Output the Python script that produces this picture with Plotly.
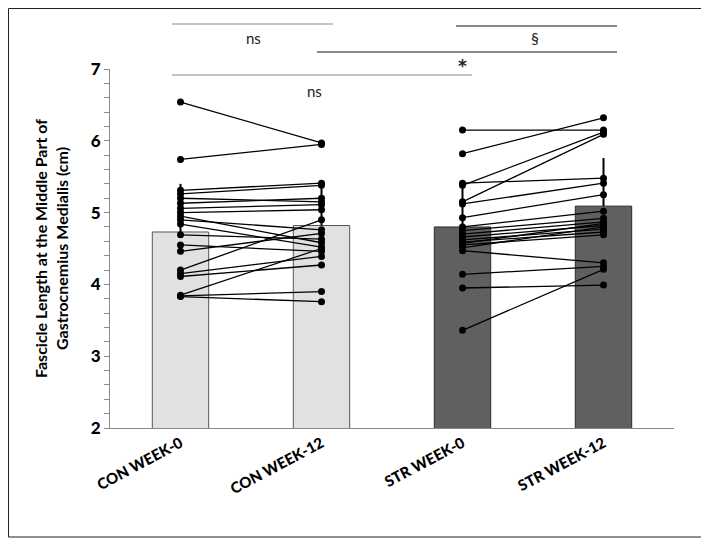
import plotly.graph_objects as go

categories = ["CON WEEK-0", "CON WEEK-12", "STR WEEK-0", "STR WEEK-12"]
bar_means = [4.73, 4.82, 4.80, 5.09]
bar_sd_up = [0.67, 0.59, 0.61, 0.67]
bar_colors = ["#e1e1e1", "#e1e1e1", "#606060", "#606060"]
bar_edges = ["#555555", "#555555", "#2a2a2a", "#2a2a2a"]

con_week0 = [6.54, 5.74, 5.31, 5.26, 5.20, 5.13, 5.06, 5.00, 4.95, 4.90,
             4.84, 4.69, 4.55, 4.46, 4.20, 4.15, 4.11, 3.85, 3.84, 3.83]
con_week12 = [5.97, 5.95, 5.41, 5.38, 5.15, 5.20, 5.11, 5.04, 4.58, 4.76,
              4.52, 4.63, 4.46, 4.71, 4.90, 4.39, 4.27, 4.50, 3.90, 3.76]

str_week0 = [6.15, 5.82, 5.41, 5.38, 5.15, 5.12, 4.93, 4.80, 4.75, 4.70,
             4.66, 4.62, 4.59, 4.55, 4.51, 4.47, 4.14, 3.95, 3.36, 4.57]
str_week12 = [6.15, 6.32, 5.48, 6.12, 6.09, 5.41, 5.25, 5.02, 4.92, 4.87,
              4.82, 4.77, 4.73, 4.69, 4.80, 4.30, 4.25, 3.99, 4.21, 4.85]

y_title = "Fascicle Length at the Middle Part of<br>Gastrocnemius Medialis (cm)"
font_family = "Lato, 'Open Sans', sans-serif"

fig = go.Figure()

fig.add_trace(go.Bar(
    x=categories, y=bar_means, width=0.4,
    marker=dict(color=bar_colors, line=dict(color=bar_edges, width=1)),
    error_y=dict(type="data", array=bar_sd_up, arrayminus=[0] * 4,
                 symmetric=False, width=0, thickness=2, color="black"),
    base=0, showlegend=False, hoverinfo="skip",
))


def paired(c0, c1, v0, v1):
    xs, ys = [], []
    for a, b in zip(v0, v1):
        xs += [c0, c1, None]
        ys += [a, b, None]
    return xs, ys


for c0, c1, v0, v1 in [(categories[0], categories[1], con_week0, con_week12),
                       (categories[2], categories[3], str_week0, str_week12)]:
    xs, ys = paired(c0, c1, v0, v1)
    fig.add_trace(go.Scatter(
        x=xs, y=ys, mode="lines+markers",
        line=dict(color="black", width=1.3),
        marker=dict(color="black", size=7),
        showlegend=False, cliponaxis=False,
    ))

OFF = 8  # page body margin
W, H = 709 - OFF, 541 - OFF
L, T = 110 - OFF, 69 - OFF
pw, ph = 564, 359
R = W - L - pw
B = H - T - ph


def px(x):
    return (x - OFF - L) / pw


def py(y):
    return (T + ph - (y - OFF)) / ph


shapes = []
sig_lines = [
    (172, 333, 24, "#8a8a8a"),
    (456, 617, 26, "#111111"),
    (317, 617, 52, "#111111"),
    (172, 472, 75, "#8a8a8a"),
]
for x0, x1, yy, col in sig_lines:
    shapes.append(dict(type="line", xref="paper", yref="paper",
                       x0=px(x0), x1=px(x1), y0=py(yy), y1=py(yy),
                       line=dict(color=col, width=1.2)))
# outer frame
shapes.append(dict(type="rect", xref="paper", yref="paper",
                   x0=px(OFF + 0.5), x1=px(705), y0=py(OFF + 0.5), y1=py(537),
                   line=dict(color="#222222", width=1)))

annotations = []
for txt, x, y, size, wt, fam in [
        ("ns", 253, 38, 15, "normal", font_family),
        ("§", 535, 38, 16, "normal", font_family),
        ("*", 462, 66, 17, "bold", "DejaVu Sans, sans-serif"),
        ("ns", 314, 91, 15, "normal", font_family)]:
    annotations.append(dict(text=txt, xref="paper", yref="paper",
                            x=px(x), y=py(y), showarrow=False,
                            xanchor="center", yanchor="middle",
                            font=dict(size=size, color="#222222",
                                      family=fam, weight=wt)))

fig.update_layout(
    width=W, height=H,
    margin=dict(l=L, r=R, t=T, b=B, autoexpand=False),
    paper_bgcolor="white", plot_bgcolor="white",
    shapes=shapes, annotations=annotations,
    font=dict(family=font_family, color="black"),
)
fig.update_xaxes(
    type="category", range=[-0.5, 3.5], showline=True, linecolor="#8a8a8a",
    linewidth=1, ticks="", showgrid=False, zeroline=False, tickangle=-28,
    tickfont=dict(size=15, family=font_family, color="black", weight=900),
)
fig.update_yaxes(
    range=[2, 7], dtick=1, tick0=2, showline=True, linecolor="#8a8a8a",
    linewidth=1, ticks="outside", ticklen=5, tickcolor="#8a8a8a",
    minor=dict(dtick=0.2, ticks="outside", ticklen=5, tickcolor="#8a8a8a"),
    showgrid=False, zeroline=False,
    tickfont=dict(size=17, family=font_family, color="black", weight=900),
    title=dict(text=y_title, standoff=18,
               font=dict(size=16, family=font_family, color="black", weight="bold")),
)

fig.write_html("out.html")
